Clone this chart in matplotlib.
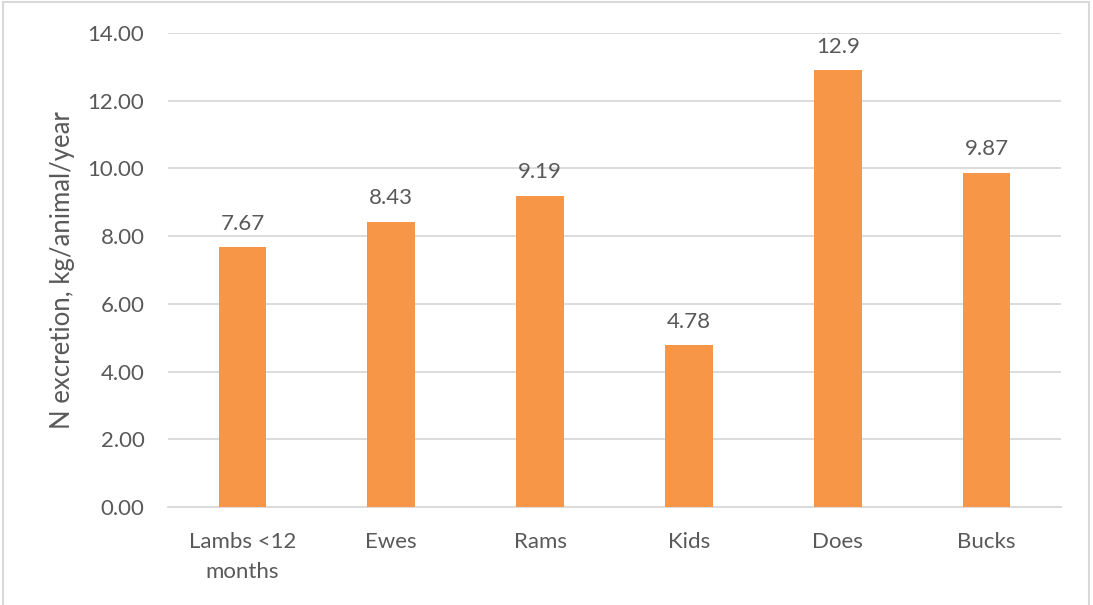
import matplotlib.pyplot as plt
from matplotlib.patches import Rectangle

categories = ["Lambs <12\nmonths", "Ewes", "Rams", "Kids", "Does", "Bucks"]
values = [7.67, 8.43, 9.19, 4.78, 12.9, 9.87]
labels = ["7.67", "8.43", "9.19", "4.78", "12.9", "9.87"]
yticks = [0, 2, 4, 6, 8, 10, 12, 14]

plt.rcParams['font.family'] = ['Lato', 'DejaVu Sans']
txt = '#595959'

fig = plt.figure(figsize=(10.93, 6.05), dpi=100)
ax = fig.add_axes([0.1537, 0.162, 0.817, 0.7835])

x = range(len(categories))
ax.bar(x, values, width=0.32, color='#f79646', zorder=3)
for i, v in enumerate(values):
    ax.text(i, v + 0.4, labels[i], ha='center', va='bottom', fontsize=16, color=txt)

ax.set_xlim(-0.5, len(categories) - 0.5)
ax.set_ylim(0, 14)
ax.set_yticks(yticks)
ax.set_yticklabels(["%.2f" % t for t in yticks], fontsize=16, color=txt)
ax.set_xticks(list(x))
ax.set_xticklabels(categories, fontsize=16, color=txt, linespacing=1.65)
ax.tick_params(axis='y', length=0, pad=17)
ax.tick_params(axis='x', length=0, pad=18)
ax.grid(axis='y', color='#d9d9d9', linewidth=1.3, zorder=0)
for s in ['top', 'right', 'left']:
    ax.spines[s].set_visible(False)
ax.spines['bottom'].set_color('#d9d9d9')
ax.spines['bottom'].set_linewidth(1.3)
ax.set_ylabel("N excretion, kg/animal/year", fontsize=18.5, color=txt, labelpad=9)

fig.patches.append(Rectangle((0.003, -0.01), 0.993, 1.006, transform=fig.transFigure,
                             fill=False, edgecolor='#d9d9d9', linewidth=1.5))

fig.savefig("out.png", dpi=100)
